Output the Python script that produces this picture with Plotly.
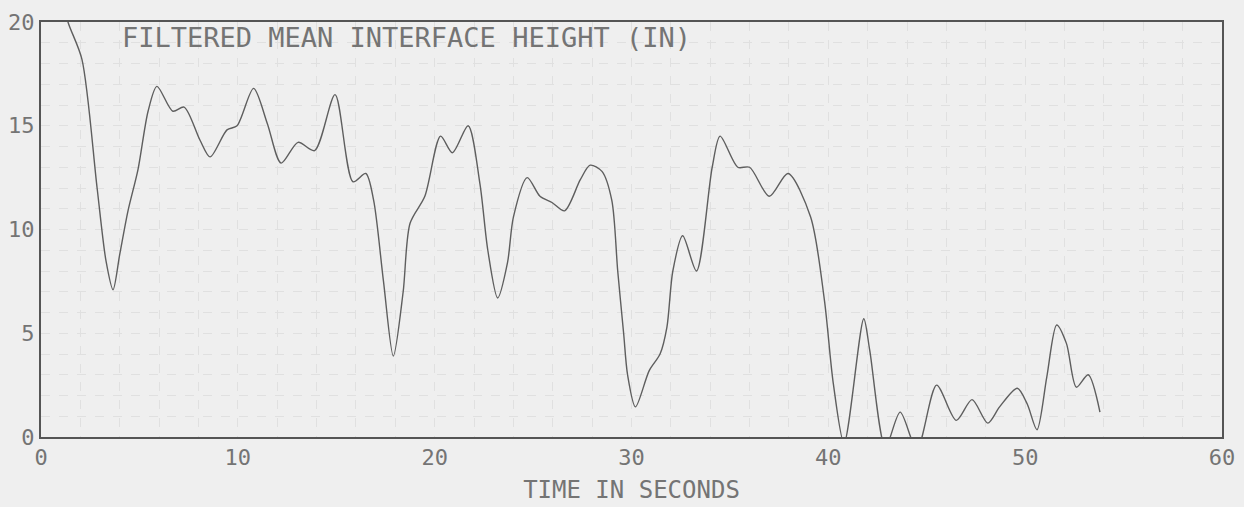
import plotly.graph_objects as go

# Time (s) and filtered mean interface height (in)
time_s = [1.0, 1.37, 2.08, 2.85, 3.3, 3.66, 4.0, 4.42, 4.93, 5.44, 5.89, 6.7, 7.27, 8.08, 8.59,
          9.45, 9.96, 10.8, 11.5, 12.2, 13.06, 13.9, 14.94, 15.85, 16.5, 16.9, 17.4, 17.9,
          18.4, 18.75, 19.5, 20.3, 20.9, 21.7, 22.3, 22.7, 23.2, 23.7, 24.0, 24.7, 25.35,
          25.96, 26.6, 27.4, 27.9, 28.5, 29.0, 29.3, 29.6, 29.8, 30.2, 30.9, 31.45, 31.8,
          32.1, 32.6, 33.3, 34.1, 34.5, 35.4, 36.0, 37.0, 37.95, 39.1, 39.8, 40.25, 40.8,
          41.8, 42.1, 42.9, 43.65, 44.5, 45.5, 46.5, 47.3, 48.1, 48.7, 49.6, 50.1, 50.6,
          51.1, 51.6, 52.1, 52.6, 53.2, 53.8]
height_in = [21.5, 20.0, 18.2, 12.0, 8.5, 7.1, 8.8, 10.9, 12.9, 15.7, 16.9, 15.7, 15.9, 14.3, 13.5,
             14.8, 15.0, 16.8, 15.1, 13.2, 14.2, 13.8, 16.5, 12.3, 12.7, 11.4, 7.5, 3.9,
             7.0, 10.3, 11.6, 14.5, 13.7, 15.0, 12.2, 9.0, 6.7, 8.4, 10.6, 12.5, 11.6,
             11.3, 10.9, 12.4, 13.1, 12.8, 11.4, 8.0, 5.0, 3.0, 1.45, 3.2, 4.0, 5.3,
             8.0, 9.7, 8.0, 13.0, 14.5, 13.0, 13.0, 11.6, 12.7, 10.6, 6.6, 2.6, -0.3,
             5.7, 4.2, -0.5, 1.2, -0.6, 2.5, 0.8, 1.8, 0.67, 1.45, 2.35, 1.6, 0.35,
             2.9, 5.4, 4.5, 2.4, 3.0, 1.2]

x_ticks = [0, 10, 20, 30, 40, 50, 60]
y_ticks = [0, 5, 10, 15, 20]
title_text = "FILTERED MEAN INTERFACE HEIGHT (IN)"
x_title = "TIME IN SECONDS"

FONT = "DejaVu Sans Mono"
TXT = "#747474"
BG = "#efefef"
GRID = "#e0e0e0"

fig = go.Figure()
fig.add_trace(go.Scatter(
    x=time_s, y=height_in, mode="lines",
    line=dict(color="#5e5e5e", width=1.4, shape="spline", smoothing=0.8),
    showlegend=False,
))

fig.add_annotation(
    x=4.0, y=19.23, xref="x", yref="y", xanchor="left", yanchor="middle",
    text=title_text, showarrow=False,
    font=dict(family=FONT, size=27, color=TXT),
)

fig.update_layout(
    width=1244, height=507,
    margin=dict(l=41, r=22, t=22, b=70),
    paper_bgcolor=BG, plot_bgcolor=BG,
    font=dict(family=FONT, color=TXT, size=22),
)
fig.update_xaxes(
    range=[0, 60], tickvals=x_ticks, ticktext=[str(v) for v in x_ticks],
    showline=True, linecolor="#555555", linewidth=2, mirror=True,
    showgrid=True, gridcolor=GRID, griddash="dash", gridwidth=1,
    minor=dict(dtick=2, showgrid=True, gridcolor=GRID, griddash="dash"),
    zeroline=False, ticks="", tickfont=dict(size=22, color=TXT),
    title=dict(text=x_title, font=dict(size=24, color=TXT), standoff=12),
    automargin=False,
)
fig.update_yaxes(
    range=[0, 20], tickvals=y_ticks, ticktext=[str(v) for v in y_ticks],
    showline=True, linecolor="#555555", linewidth=2, mirror=True,
    showgrid=True, gridcolor=GRID, griddash="dash", gridwidth=1,
    minor=dict(dtick=1, showgrid=True, gridcolor=GRID, griddash="dash"),
    zeroline=False, ticks="", tickfont=dict(size=22, color=TXT),
    ticklabelstandoff=0, automargin=False,
)

fig.write_html("out.html", config={"displayModeBar": False},
               post_script="document.body.style.margin='0';")
